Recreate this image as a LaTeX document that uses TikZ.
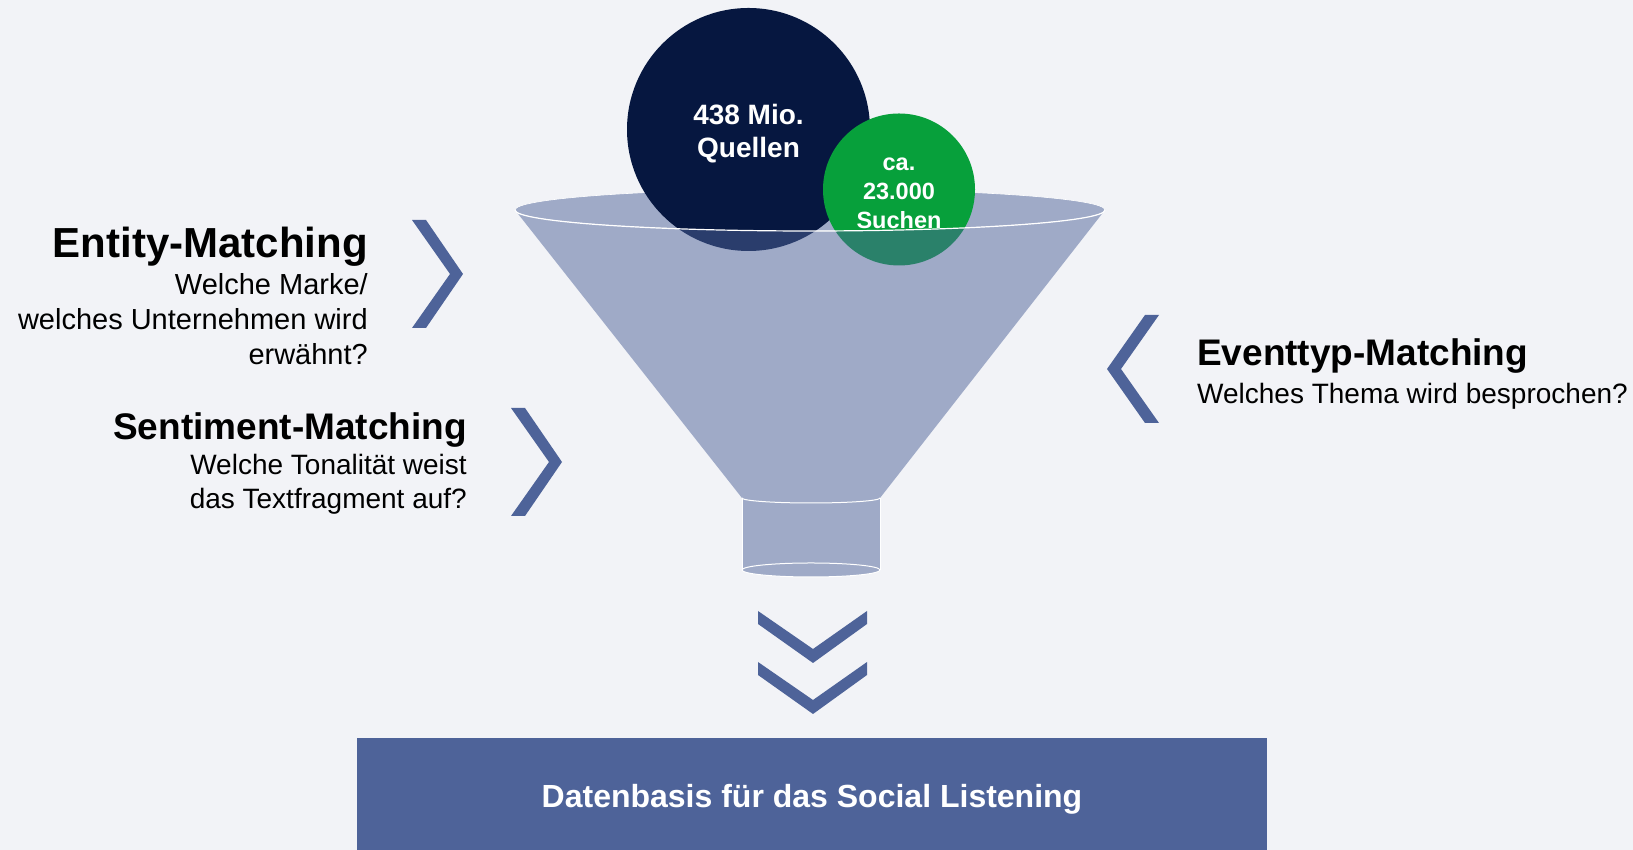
\documentclass[tikz,border=0pt]{standalone}
\usepackage{fontspec}
\setmainfont{Liberation Sans}
\definecolor{bgray}{HTML}{F2F3F7}
\definecolor{navy}{HTML}{061740}
\definecolor{leafgreen}{HTML}{07A03B}
\definecolor{slate}{HTML}{4E6399}

\begin{document}
\begin{tikzpicture}[x=1pt,y=1pt,
  funnel/.style={fill=slate,fill opacity=0.5},
  chevron/.style={fill=slate},
  headline/.style={inner sep=0,font=\bfseries\fontsize{37}{44}\selectfont},
  question/.style={inner sep=0,font=\fontsize{28}{34.5}\selectfont},
  bubble/.style={inner sep=0,align=center,text=white,font=\bfseries\fontsize{28}{33}\selectfont}]
\fill[bgray] (0,0) rectangle (1633,850);
% back rim of the funnel
\fill[funnel] (810,640) ellipse (295 and 21);
\draw[white,line width=0.6] (810,640) ellipse (295 and 21);
% the two bubbles dropping in
\fill[navy] (748.5,720.5) circle (121.5);
\fill[leafgreen] (899,660.5) circle (76);
% cone and neck, see-through over the bubbles
\fill[funnel] (515,640) arc (180:360:295 and 21) -- (880,352) -- (880,280) arc (360:180:69 and 7) -- (742,352) -- cycle;
\draw[white,line width=1.2] (515,640) arc (180:360:295 and 21);
\draw[white,line width=1] (742,352) arc (180:360:69 and 5);
\draw[white,line width=0.6] (742,352) -- (742,280) (880,352) -- (880,280);
\draw[white,line width=1] (811,280) ellipse (69 and 7);
\node[bubble,anchor=base] (quellen) at (748.5,692) {438 Mio.\\Quellen};
\node[bubble,font=\bfseries\fontsize{23.5}{29}\selectfont,anchor=base] (suchen) at (899,621) {ca.\\23.000\\Suchen};
% chevrons
\fill[chevron] (412,630) -- (426,630) -- (463,576) -- (426,522) -- (412,522) -- (450,576) -- cycle;
\fill[chevron] (511,442) -- (525,442) -- (562,388) -- (525,334) -- (511,334) -- (549,388) -- cycle;
\fill[chevron] (1159,535) -- (1145,535) -- (1107,481) -- (1145,427) -- (1159,427) -- (1121,481) -- cycle;
\foreach \y in {0,51}
  \fill[chevron,yshift=-\y pt] (758,239) -- (813,201) -- (867,239) -- (867,226) -- (813,187) -- (758,226) -- cycle;
% labels
\node[headline,font=\bfseries\fontsize{42}{50}\selectfont,anchor=base east] (entity) at (368,592) {Entity-Matching};
\node[question,font=\fontsize{29}{35}\selectfont,align=right,anchor=base east] (entityq) at (368,485) {Welche Marke/\\welches Unternehmen wird\\erwähnt?};
\node[headline,anchor=base east] (sentiment) at (467,410.5) {Sentiment-Matching};
\node[question,align=right,anchor=base east] (sentimentq) at (467,341) {Welche Tonalität weist\\das Textfragment auf?};
\node[headline,anchor=base west] (eventtyp) at (1197,484) {Eventtyp-Matching};
\node[question,anchor=base west] (eventtypq) at (1197,446) {Welches Thema wird besprochen?};
% result box
\node[fill=slate,minimum width=910,minimum height=112,inner sep=0,text height=26.6,text depth=0,text=white,font=\bfseries\fontsize{32}{38}\selectfont] (datenbasis) at (812,56) {Datenbasis für das Social Listening};
\end{tikzpicture}
\end{document}
